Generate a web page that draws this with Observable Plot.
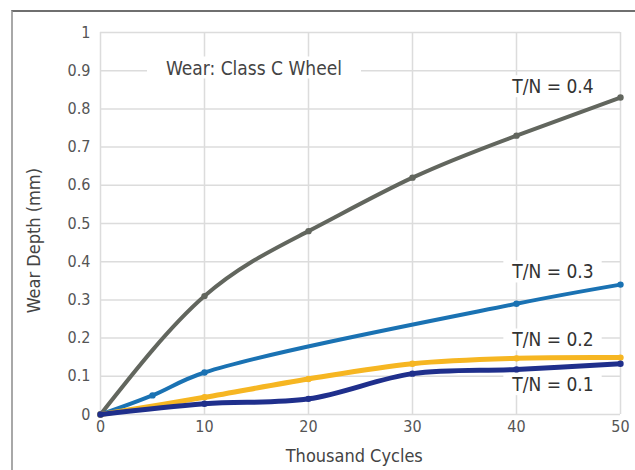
<!DOCTYPE html>
<html>
<head>
<meta charset="utf-8">
<script src="https://cdn.jsdelivr.net/npm/d3@7"></script>
<script src="https://cdn.jsdelivr.net/npm/@observablehq/plot@0.6"></script>
<style>
  html, body { margin: 0; padding: 0; background: #fff; }
  #wrap { position: relative; width: 635px; height: 470px; overflow: hidden; }
  #frame { position: absolute; left: 11px; top: 10px; width: 700px; height: 500px;
           border-top: 2px solid #6f6f6f; border-left: 2px solid #a8a8a8; pointer-events: none; }
  #chart { position: absolute; left: 0; top: 0; }
</style>
</head>
<body>
<div id="wrap"><div id="chart"></div><div id="frame"></div></div>
<script>
const cycles04 = [0, 10, 20, 30, 40, 50];
const wear04   = [0, 0.31, 0.48, 0.62, 0.73, 0.83];
const cycles03 = [0, 5, 10, 40, 50];
const wear03   = [0, 0.05, 0.11, 0.29, 0.34];
const cycles02 = [0, 10, 20, 30, 40, 50];
const wear02   = [0, 0.045, 0.093, 0.133, 0.147, 0.149];
const cycles01 = [0, 10, 20, 30, 40, 50];
const wear01   = [0, 0.028, 0.041, 0.107, 0.118, 0.133];

const seriesNames  = ["T/N = 0.4", "T/N = 0.3", "T/N = 0.2", "T/N = 0.1"];
const seriesColors = ["#62665e", "#1a72b3", "#f6b622", "#1f2f8c"];
const seriesWidths = [4, 4, 5, 5];
const seriesCurves = ["natural", "catmull-rom", "catmull-rom", "catmull-rom"];

const labelX = [39.6, 39.6, 39.6, 39.6];
const labelY = [0.857, 0.372, 0.194, 0.077];

const xTicks = [0, 10, 20, 30, 40, 50];
const yTicks = [0, 0.1, 0.2, 0.3, 0.4, 0.5, 0.6, 0.7, 0.8, 0.9, 1];

const title = "Wear: Class C Wheel";
const xLabel = "Thousand Cycles";
const yLabel = "Wear Depth (mm)";

const allX = [cycles04, cycles03, cycles02, cycles01];
const allY = [wear04, wear03, wear02, wear01];
const data = [];
allX.forEach((xs, i) => xs.forEach((x, j) => data.push({series: seriesNames[i], x, y: allY[i][j]})));
const labels = seriesNames.map((s, i) => ({series: s, x: labelX[i], y: labelY[i]}));

const font = "'Liberation Sans Narrow', 'DejaVu Sans Condensed', 'Roboto', sans-serif";

const lineMarks = seriesNames.flatMap((s, i) => {
  const d = data.filter(p => p.series === s);
  return [
    Plot.line(d, {x: "x", y: "y", stroke: seriesColors[i], strokeWidth: seriesWidths[i], curve: seriesCurves[i]}),
    Plot.dot(d, {x: "x", y: "y", fill: seriesColors[i], r: 3.2})
  ];
});

const plot = Plot.plot({
  width: 635,
  height: 470,
  marginLeft: 100,
  marginRight: 15,
  marginTop: 32,
  marginBottom: 56,
  style: {fontFamily: font, fontSize: "16px", color: "#555", background: "#fff"},
  x: {domain: [0, 50], ticks: xTicks, tickSize: 0, tickPadding: 6, label: null},
  y: {domain: [0, 1], ticks: yTicks, tickSize: 0, tickPadding: 10, label: null,
      tickFormat: d => (d === 0 || d === 1) ? String(d) : d.toFixed(1)},
  marks: [
    Plot.gridX(xTicks, {stroke: "#dcdcdc", strokeOpacity: 1, strokeWidth: 1.5}),
    Plot.gridY(yTicks, {stroke: "#dcdcdc", strokeOpacity: 1, strokeWidth: 1.5}),
    Plot.text([title], {x: 6.3, y: 0.906, textAnchor: "start", fontSize: 19, fill: "#444", className: "boxed-title"}),
    ...lineMarks,
    Plot.text(labels, {x: "x", y: "y", text: "series", textAnchor: "start", fontSize: 19, fill: "#333", className: "boxed-label"}),
    Plot.text([xLabel], {x: 24.4, y: -0.108, fontSize: 18, fill: "#444"}),
    Plot.text([yLabel], {x: -6.4, y: 0.455, rotate: -90, fontSize: 18, fill: "#444"})
  ]
});
document.getElementById("chart").appendChild(plot);

// white boxes behind the boxed labels
function boxify(cls, padX, padY, padL) {
  plot.querySelectorAll("g." + cls + " text").forEach(t => {
    const b = t.getBBox();
    const r = document.createElementNS("http://www.w3.org/2000/svg", "rect");
    r.setAttribute("x", b.x - padL);
    r.setAttribute("y", b.y - padY);
    r.setAttribute("width", b.width + padL + padX);
    r.setAttribute("height", b.height + 2 * padY);
    r.setAttribute("fill", "#fff");
    const tr = t.getAttribute("transform");
    if (tr) r.setAttribute("transform", tr);
    t.parentNode.insertBefore(r, t);
  });
}
boxify("boxed-title", 19, 0, 19);
boxify("boxed-label", 8, 0, 8);
</script>
</body>
</html>
